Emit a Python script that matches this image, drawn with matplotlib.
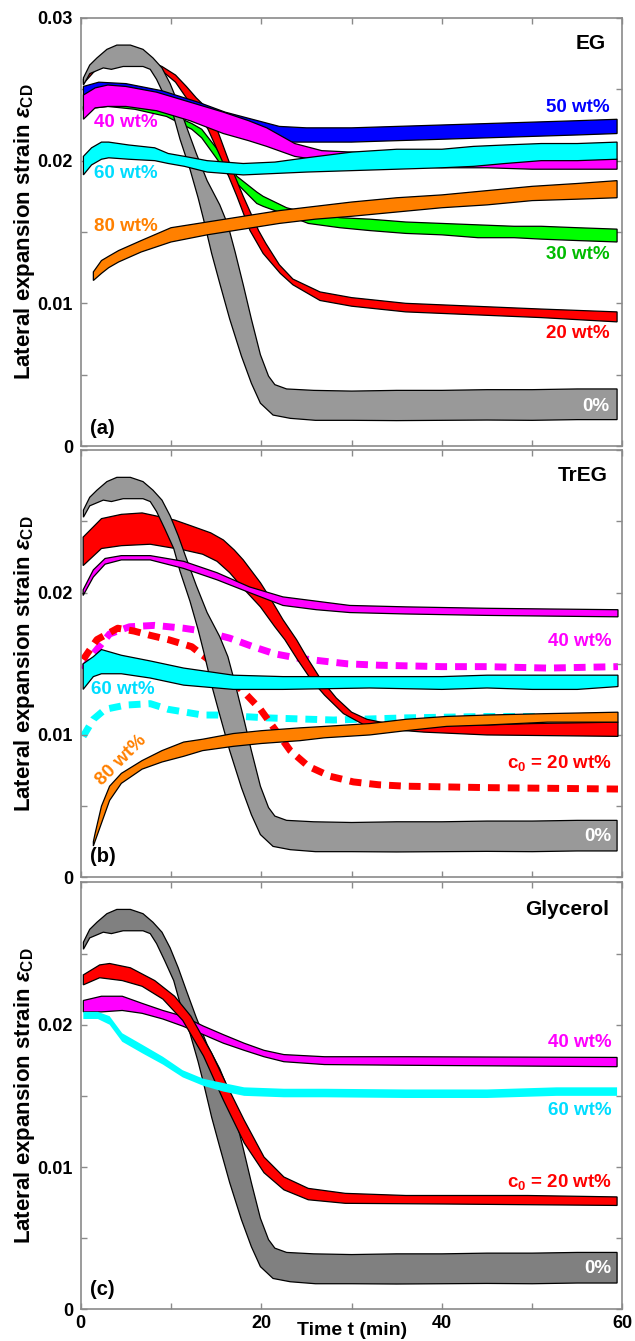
# lateral expansion strain vs time for three solvents (EG, TrEG, glycerol)
# each measurement is drawn as a band between a lower and an upper curve
import matplotlib.pyplot as plt

plt.rcParams['font.family'] = ['Liberation Sans', 'DejaVu Sans']
plt.rcParams['font.weight'] = 'bold'
plt.rcParams['axes.labelweight'] = 'bold'
plt.rcParams['mathtext.fontset'] = 'custom'
plt.rcParams['mathtext.rm'] = 'Liberation Sans'
plt.rcParams['mathtext.it'] = 'Liberation Sans:italic'
plt.rcParams['mathtext.bf'] = 'Liberation Sans:bold'

scale = 1e-3  # all strain values below are in units of 1e-3

# 0% reference (same run shown in every panel)
gray_hi_t = [0.3, 1, 1.8, 2.9, 4, 5.5, 6.9, 8, 9, 9.9, 10.8, 11.7, 12.8, 14, 15.4, 16.3, 17.1, 18,
             18.9, 19.9, 20.8, 21.5, 22.8, 25.8, 30, 35, 40, 45, 50, 55, 59.4]
gray_hi = [25.8, 26.7, 27.2, 27.8, 28.1, 28.1, 27.8, 27.2, 26.5, 25.4, 24.0, 22.4, 20.5, 18.6, 16.9, 15.5,
           13.6, 11.3, 8.9, 6.4, 4.9, 4.3, 4.0, 3.9, 3.85, 3.9, 3.9, 3.95, 3.95, 4.0, 4.0]
gray_lo_t = [0.3, 1, 2.5, 3.4, 4.7, 6.9, 7.7, 8.4, 9.3, 10.3, 11.0, 12.1, 13.0, 13.6, 14.5, 15.4, 16.5,
             17.8, 18.9, 19.9, 21.3, 23.2, 26, 30, 35, 40, 45, 50, 55, 59.4]
gray_lo = [25.3, 26.1, 26.5, 26.4, 26.6, 26.6, 26.4, 25.7, 24.5, 23.1, 21.5, 19.4, 17.4, 15.9, 13.5, 11.4,
           8.9, 6.3, 4.4, 3.0, 2.17, 1.94, 1.8, 1.8, 1.78, 1.8, 1.82, 1.8, 1.85, 1.85]

# (a) EG
eg20_hi_t = [0.3, 2, 5, 7, 9, 10.5, 11.7, 12.8, 14.1, 15.1, 16.5, 18, 19.7, 20.5, 22, 23.5, 26.5, 30,
             36, 43.5, 51, 59.4]
eg20_hi = [25.7, 26.9, 27.3, 27.1, 26.6, 26.0, 25.2, 24.4, 23.6, 22.2, 19.8, 17.5, 15.1, 14.2, 12.7, 11.7,
           10.8, 10.4, 10.0, 9.8, 9.6, 9.4]
eg20_lo_t = [0.3, 2, 5, 7, 9, 10.5, 11.7, 12.8, 14.1, 15.8, 17.3, 18.75, 20.2, 22.1, 23.5, 26.5, 30, 36,
             43.5, 51, 59.4]
eg20_lo = [25.4, 26.6, 27.0, 26.8, 26.3, 25.5, 24.4, 23.5, 22.2, 19.8, 17.5, 15.1, 13.5, 12.1, 11.3, 10.2,
           9.8, 9.4, 9.2, 9.0, 8.7]

eg30_t = [0.3, 3, 6, 9.5, 12.3, 13.4, 15, 16.2, 17.3, 19.5, 20.2, 22.8, 25.2, 28.7, 32, 36, 40, 44, 48,
          51, 55, 59.4]
eg30_hi = [23.8, 24.0, 23.8, 23.4, 22.6, 22.2, 20.9, 19.9, 18.9, 17.8, 17.5, 16.7, 16.3, 16.0, 15.9, 15.7,
           15.6, 15.5, 15.4, 15.4, 15.3, 15.2]
eg30_lo = [23.6, 23.8, 23.6, 23.1, 22.2, 21.6, 20.2, 19.1, 18.4, 17.0, 16.8, 16.2, 15.6, 15.3, 15.1, 14.9,
           14.8, 14.6, 14.6, 14.5, 14.4, 14.3]

eg50_t = [0.3, 2, 5, 9, 13, 16, 19, 22, 25, 30, 35, 40, 45, 50, 55, 59.4]
eg50_hi = [25.2, 25.5, 25.4, 24.9, 24.1, 23.4, 22.9, 22.4, 22.3, 22.3, 22.4, 22.5, 22.6, 22.7, 22.8, 22.9]
eg50_lo = [23.5, 24.3, 24.2, 23.6, 22.8, 22.2, 21.7, 21.3, 21.3, 21.3, 21.4, 21.5, 21.6, 21.7, 21.8, 21.9]

eg40_t = [0.3, 1.6, 3, 5, 8.4, 12.1, 15.8, 18.6, 20.6, 23.7, 26.7, 30, 35, 40, 45, 50, 55, 59.4]
eg40_hi = [24.6, 25.1, 25.3, 25.2, 24.8, 24.1, 23.4, 22.8, 22.3, 21.2, 20.7, 20.6, 20.5, 20.3, 20.2, 20.2,
           20.1, 20.1]
eg40_lo = [22.9, 23.7, 23.8, 23.8, 23.5, 22.8, 21.9, 21.4, 21.0, 20.3, 20.0, 19.8, 19.6, 19.5, 19.5, 19.4,
           19.4, 19.4]

eg60_t = [0.3, 1.2, 2.3, 3.1, 5.3, 8.2, 9.7, 11.5, 14, 18, 21.5, 25, 30, 35, 40, 43.5, 47, 51, 55, 59.4]
eg60_hi = [20.3, 20.9, 21.3, 21.3, 21.1, 20.9, 20.5, 20.3, 20.0, 19.8, 19.9, 20.2, 20.6, 20.8, 20.8, 21.0,
           21.1, 21.2, 21.2, 21.3]
eg60_lo = [19.0, 19.7, 20.1, 20.2, 20.1, 20.0, 19.8, 19.6, 19.2, 19.0, 19.1, 19.2, 19.3, 19.4, 19.5, 19.6,
           19.8, 20.0, 20.0, 20.1]

eg80_t = [1.4, 2.3, 3.1, 4.2, 6.7, 10, 14, 18, 22, 26, 30, 35, 40, 45, 50, 55, 59.4]
eg80_hi = [12.2, 13.0, 13.3, 13.7, 14.4, 15.3, 15.7, 16.1, 16.5, 16.8, 17.1, 17.4, 17.6, 17.9, 18.2, 18.4, 18.6]
eg80_lo = [11.6, 12.1, 12.5, 12.9, 13.6, 14.3, 14.8, 15.2, 15.6, 15.9, 16.1, 16.4, 16.7, 16.9, 17.2, 17.3, 17.4]

# (b) TrEG
tr20_hi_t = [0.27, 2.3, 4.5, 6.8, 9, 10.4, 12.2, 14.4, 15.8, 17, 18, 19.9, 21, 22.4, 23.9, 25, 26.5,
             28.3, 30, 31.7, 34, 38, 45, 50, 59.5]
tr20_hi = [23.9, 25.2, 25.5, 25.6, 25.3, 25.1, 24.7, 24.2, 23.7, 23.0, 22.3, 20.7, 19.6, 18.1, 16.7, 15.5,
           14.0, 12.6, 11.6, 11.1, 10.8, 10.7, 10.7, 10.8, 10.9]
tr20_lo_t = [0.27, 2.3, 4.5, 7.7, 11.4, 13.5, 15.1, 16.5, 18, 19.9, 21.5, 22.6, 24, 25.5, 27, 29.1,
             31.7, 34, 38, 45, 59.5]
tr20_lo = [21.9, 23.1, 23.3, 23.4, 23.0, 22.7, 22.2, 21.4, 20.3, 19.0, 17.6, 16.7, 15.3, 13.9, 12.8, 11.5,
           10.6, 10.4, 10.2, 10.0, 9.9]

tr40_t = [0.27, 1.4, 2.7, 4.5, 7.7, 11.4, 15.1, 18.7, 22.4, 26.1, 29.8, 36, 45, 52, 59.5]
tr40_hi = [20.2, 21.6, 22.4, 22.6, 22.6, 22.2, 21.4, 20.4, 19.7, 19.4, 19.1, 19.0, 18.9, 18.85, 18.8]
tr40_lo = [19.8, 21.1, 22.0, 22.3, 22.3, 21.7, 20.9, 20.0, 19.1, 18.8, 18.6, 18.5, 18.4, 18.35, 18.3]

tr60_t = [0.27, 1.4, 2.3, 4.5, 7.7, 11.4, 16.9, 22.4, 32, 40, 45, 50, 55, 59.5]
tr60_hi = [15.0, 15.5, 16.0, 15.6, 15.2, 14.7, 14.2, 14.1, 14.1, 14.1, 14.2, 14.2, 14.2, 14.2]
tr60_lo = [13.2, 14.1, 14.3, 14.3, 14.0, 13.5, 13.2, 13.2, 13.3, 13.2, 13.3, 13.2, 13.2, 13.4]

tr80_hi_t = [1.4, 1.6, 2.3, 3.2, 4.5, 6.8, 9.0, 11.4, 13.5, 16.9, 20, 24.3, 27, 32, 36, 40.5, 45, 51.7, 59.5]
tr80_hi = [2.5, 3.1, 5.0, 6.4, 7.3, 8.2, 8.9, 9.5, 9.7, 10.1, 10.3, 10.5, 10.6, 10.8, 11.1, 11.3, 11.4,
           11.5, 11.6]
tr80_lo_t = [1.4, 2.3, 3.2, 4.5, 6.8, 9.0, 11.4, 13.5, 16.9, 20, 24.3, 27, 32, 36, 40.5, 45, 51.7, 59.5]
tr80_lo = [2.2, 3.8, 5.4, 6.6, 7.6, 8.1, 8.5, 8.9, 9.2, 9.4, 9.6, 9.8, 10.0, 10.3, 10.6, 10.7, 10.9, 10.9]

# dashed curves in (b)
dash40_t = [0.27, 1.4, 3.2, 5.4, 8.2, 11.4, 13.5, 16.5, 19.1, 21.5, 24, 26.7, 29.5, 33, 40, 45, 51.7, 59.5]
dash40 = [14.6, 15.7, 17.1, 17.6, 17.7, 17.5, 17.3, 16.8, 16.2, 15.7, 15.4, 15.2, 15.0, 14.9, 14.8, 14.8,
          14.7, 14.8]
dash20_t = [0.27, 1.8, 4.1, 5.9, 7.7, 9.7, 12.3, 13.5, 15, 16.5, 18.4, 19.9, 21.5, 23.2, 25.2, 27.6, 30.2,
            33, 36, 45, 59.5]
dash20 = [15.3, 16.7, 17.5, 17.3, 17.0, 16.7, 16.2, 15.6, 14.9, 14.0, 12.8, 11.8, 10.4, 8.9, 7.8, 7.1, 6.7,
          6.5, 6.4, 6.3, 6.2]
dash60_t = [0.27, 1.4, 2.7, 5.0, 7.7, 9.7, 13.5, 15.1, 20.6, 28, 36, 45, 59.5]
dash60 = [9.9, 11.1, 11.8, 12.1, 12.2, 11.8, 11.4, 11.4, 11.2, 11.05, 11.2, 11.3, 11.3]

# (c) glycerol
gl20_hi_t = [0.29, 2.1, 3.2, 5.5, 8.2, 10.4, 12.2, 14.5, 16.3, 18.1, 20.3, 22.5, 25.2, 29.3, 36, 49.5, 59.4]
gl20_hi = [23.5, 24.2, 24.3, 24.0, 23.1, 22.0, 20.6, 18.0, 15.6, 13.3, 10.7, 9.3, 8.5, 8.15, 8.0, 8.0, 7.9]
gl20_lo_t = [0.29, 2.1, 4.6, 6.8, 9.1, 11.3, 13.6, 15.8, 18.1, 20.3, 22.5, 25.2, 29.3, 40.5, 59.4]
gl20_lo = [22.8, 23.3, 23.1, 22.7, 21.8, 20.3, 17.8, 14.7, 11.7, 9.6, 8.4, 7.7, 7.45, 7.4, 7.3]

gl40_t = [0.29, 2.3, 4.6, 6.8, 9.1, 11.3, 13.6, 15.8, 18.1, 20.3, 22.5, 27, 36, 59.4]
gl40_hi = [21.7, 22.0, 22.0, 21.5, 21.0, 20.6, 19.9, 19.3, 18.7, 18.2, 17.9, 17.75, 17.75, 17.7]
gl40_lo = [20.9, 20.9, 21.0, 20.8, 20.4, 19.9, 19.3, 18.7, 18.2, 17.75, 17.4, 17.2, 17.15, 17.05]

gl60_t = [0.29, 1.9, 3.2, 4.6, 6.8, 9.1, 11.3, 13.6, 15.8, 18.1, 22.5, 27, 36, 45, 52.7, 59.4]
gl60_hi = [20.9, 20.9, 20.6, 19.4, 18.6, 17.75, 16.8, 16.2, 15.9, 15.6, 15.5, 15.5, 15.45, 15.45, 15.6, 15.6]
gl60_lo = [20.4, 20.4, 20.0, 18.8, 18.0, 17.2, 16.3, 15.7, 15.3, 15.0, 14.9, 14.9, 14.85, 14.85, 15.0, 15.0]

x_ticks = [0, 10, 20, 30, 40, 50, 60]
x_labels = ['0', '', '20', '', '40', '', '60']
y_ticks = [0, 0.005, 0.01, 0.015, 0.02, 0.025, 0.03]
y_labels_top = ['0', '', '0.01', '', '0.02', '', '0.03']
y_labels = ['0', '', '0.01', '', '0.02', '', '']

frame = '#8a8a8a'


def band(ax, t_hi, hi, t_lo, lo, color, z, edge='black'):
    # closed polygon: upper curve left->right, lower curve right->left
    xs = list(t_hi) + list(t_lo)[::-1]
    ys = [v * scale for v in hi] + [v * scale for v in lo][::-1]
    ax.fill(xs, ys, facecolor=color, edgecolor=edge, lw=0.9, zorder=z)


def dashed(ax, t, v, color):
    ax.plot(t, [x * scale for x in v], color=color, lw=5, dashes=(1.7, 1.15), zorder=1)


fig = plt.figure(figsize=(6.35, 13.41), dpi=100)
ax_a = fig.add_axes([0.1271, 0.6674, 0.8532, 0.3192])
ax_b = fig.add_axes([0.1271, 0.3458, 0.8532, 0.3184])
ax_c = fig.add_axes([0.1271, 0.0236, 0.8532, 0.3184])

for ax in (ax_a, ax_b, ax_c):
    ax.set_xlim(0, 60)
    ax.set_ylim(0, 0.03)
    ax.set_xticks(x_ticks)
    ax.set_yticks(y_ticks)
    ax.tick_params(direction='in', length=4, width=1, color=frame, top=True, right=True,
                   labelsize=13, pad=4)
    ax.tick_params(axis='y', pad=5.5)
    for s in ax.spines.values():
        s.set_color(frame)
        s.set_linewidth(1.2)
    ax.set_ylabel(r'Lateral expansion strain $\epsilon_{\mathbf{CD}}$', fontsize=16)
    ax.yaxis.set_label_coords(-0.081, 0.5)

ax_a.set_yticklabels(y_labels_top)
ax_b.set_yticklabels(y_labels)
ax_c.set_yticklabels(y_labels)
ax_a.set_xticklabels([])
ax_b.set_xticklabels([])
ax_c.set_xticklabels(x_labels)
ax_c.set_xlabel('Time t (min)', fontsize=14)
ax_c.xaxis.set_label_coords(0.5, -0.03)

lbl = dict(fontsize=13.5, fontweight='bold', va='center')

# panel (a): EG
band(ax_a, eg30_t, eg30_hi, eg30_t, eg30_lo, '#00ff00', 2)
band(ax_a, eg20_hi_t, eg20_hi, eg20_lo_t, eg20_lo, '#ff0000', 3)
band(ax_a, gray_hi_t, gray_hi, gray_lo_t, gray_lo, '#999999', 4)
band(ax_a, eg50_t, eg50_hi, eg50_t, eg50_lo, '#0000ff', 5)
band(ax_a, eg40_t, eg40_hi, eg40_t, eg40_lo, '#ff00ff', 6)
band(ax_a, eg60_t, eg60_hi, eg60_t, eg60_lo, '#00ffff', 7)
band(ax_a, eg80_t, eg80_hi, eg80_t, eg80_lo, '#ff8000', 8)
ax_a.text(58.2, 0.0282, 'EG', fontsize=15, fontweight='bold', ha='right', va='center')
ax_a.text(58.6, 0.0237, '50 wt%', color='#0000ff', ha='right', **lbl)
ax_a.text(58.6, 0.0134, '30 wt%', color='#00bb00', ha='right', **lbl)
ax_a.text(58.6, 0.0079, '20 wt%', color='#ff0000', ha='right', **lbl)
ax_a.text(58.6, 0.00276, '0%', color='white', ha='right', zorder=10, **lbl)
ax_a.text(1.5, 0.0227, '40 wt%', color='#ff00ff', ha='left', **lbl)
ax_a.text(1.5, 0.0191, '60 wt%', color='#00ddff', ha='left', **lbl)
ax_a.text(1.5, 0.0154, '80 wt%', color='#ff8000', ha='left', **lbl)
ax_a.text(1.0, 0.00126, '(a)', fontsize=14.5, fontweight='bold', ha='left', va='center')

# panel (b): TrEG
dashed(ax_b, dash40_t, dash40, '#ff00ff')
dashed(ax_b, dash60_t, dash60, '#00ffff')
dashed(ax_b, dash20_t, dash20, '#ff0000')
band(ax_b, tr20_hi_t, tr20_hi, tr20_lo_t, tr20_lo, '#ff0000', 3)
band(ax_b, gray_hi_t, gray_hi, gray_lo_t, gray_lo, '#999999', 4)
band(ax_b, tr40_t, tr40_hi, tr40_t, tr40_lo, '#ff00ff', 5)
band(ax_b, tr60_t, tr60_hi, tr60_t, tr60_lo, '#00ffff', 6)
band(ax_b, tr80_hi_t, tr80_hi, tr80_lo_t, tr80_lo, '#ff8000', 7)
ax_b.text(58.4, 0.0282, 'TrEG', fontsize=15, fontweight='bold', ha='right', va='center')
ax_b.text(58.8, 0.0166, '40 wt%', color='#ff00ff', ha='right', **lbl)
ax_b.text(1.15, 0.0132, '60 wt%', color='#00ddff', ha='left', **lbl)
ax_b.text(4.5, 0.0082, '80 wt%', color='#ff8000', ha='center', rotation=45, **lbl)
ax_b.text(58.8, 0.0080, r'c$_\mathbf{0}$ = 20 wt%', color='#ff0000', ha='right', **lbl)
ax_b.text(58.8, 0.00285, '0%', color='white', ha='right', zorder=10, **lbl)
ax_b.text(1.0, 0.00145, '(b)', fontsize=14.5, fontweight='bold', ha='left', va='center')

# panel (c): glycerol
band(ax_c, gray_hi_t, gray_hi, gray_lo_t, gray_lo, '#808080', 2)
band(ax_c, gl40_t, gl40_hi, gl40_t, gl40_lo, '#ff00ff', 3)
band(ax_c, gl20_hi_t, gl20_hi, gl20_lo_t, gl20_lo, '#ff0000', 4)
band(ax_c, gl60_t, gl60_hi, gl60_t, gl60_lo, '#00ffff', 5, edge='none')
ax_c.text(58.5, 0.0281, 'Glycerol', fontsize=15, fontweight='bold', ha='right', va='center')
ax_c.text(58.8, 0.01875, '40 wt%', color='#ff00ff', ha='right', **lbl)
ax_c.text(58.8, 0.0140, '60 wt%', color='#00ddff', ha='right', **lbl)
ax_c.text(58.8, 0.00897, r'c$_\mathbf{0}$ = 20 wt%', color='#ff0000', ha='right', **lbl)
ax_c.text(58.8, 0.00288, '0%', color='white', ha='right', zorder=10, **lbl)
ax_c.text(1.0, 0.00136, '(c)', fontsize=14.5, fontweight='bold', ha='left', va='center')

fig.savefig('out.png', dpi=100)
plt.close()
